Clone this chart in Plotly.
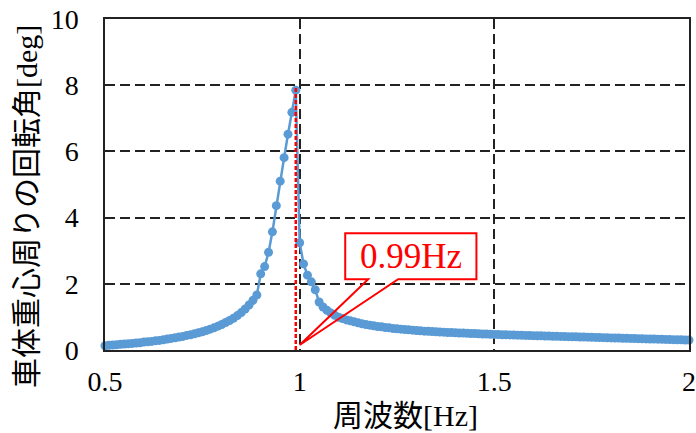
import plotly.graph_objects as go

# ---- data ----
freq_rise = [0.50, 0.51, 0.52, 0.53, 0.54, 0.55, 0.56, 0.57, 0.58, 0.59,
             0.60, 0.61, 0.62, 0.63, 0.64, 0.65, 0.66, 0.67, 0.68, 0.69,
             0.70, 0.71, 0.72, 0.73, 0.74, 0.75, 0.76, 0.77, 0.78, 0.79,
             0.80, 0.81, 0.82, 0.83, 0.84, 0.85, 0.86, 0.87, 0.88, 0.89,
             0.90, 0.91, 0.92, 0.93, 0.94, 0.95, 0.96, 0.97, 0.98, 0.99]
angle_rise = [0.13, 0.14, 0.15, 0.16, 0.17, 0.18, 0.19, 0.20, 0.21, 0.22,
              0.24, 0.25, 0.26, 0.28, 0.29, 0.31, 0.33, 0.35, 0.37, 0.39,
              0.41, 0.44, 0.46, 0.49, 0.52, 0.55, 0.59, 0.63, 0.67, 0.72,
              0.77, 0.83, 0.89, 0.96, 1.04, 1.13, 1.24, 1.36, 1.50, 1.66,
              2.30, 2.52, 2.95, 3.57, 4.36, 5.10, 5.81, 6.52, 7.18, 7.85]

freq_fall = [1.00, 1.01, 1.02, 1.03, 1.04, 1.05, 1.06, 1.07, 1.08, 1.09,
             1.10, 1.11, 1.12, 1.13, 1.14, 1.15, 1.16, 1.17, 1.18, 1.19,
             1.20, 1.21, 1.22, 1.23, 1.24, 1.25, 1.26, 1.27, 1.28, 1.29,
             1.30, 1.31, 1.32, 1.33, 1.34, 1.35, 1.36, 1.37, 1.38, 1.39,
             1.40, 1.41, 1.42, 1.43, 1.44, 1.45, 1.46, 1.47, 1.48, 1.49,
             1.50, 1.51, 1.52, 1.53, 1.54, 1.55, 1.56, 1.57, 1.58, 1.59,
             1.60, 1.61, 1.62, 1.63, 1.64, 1.65, 1.66, 1.67, 1.68, 1.69,
             1.70, 1.71, 1.72, 1.73, 1.74, 1.75, 1.76, 1.77, 1.78, 1.79,
             1.80, 1.81, 1.82, 1.83, 1.84, 1.85, 1.86, 1.87, 1.88, 1.89,
             1.90, 1.91, 1.92, 1.93, 1.94, 1.95, 1.96, 1.97, 1.98, 1.99,
             2.00]
angle_fall = [3.24, 2.60, 2.26, 2.06, 1.82, 1.45, 1.30, 1.20, 1.12, 1.05,
              0.99, 0.95, 0.91, 0.88, 0.85, 0.82, 0.79, 0.77, 0.75, 0.73,
              0.71, 0.70, 0.68, 0.67, 0.65, 0.64, 0.63, 0.62, 0.61, 0.60,
              0.59, 0.58, 0.57, 0.565, 0.56, 0.55, 0.545, 0.54, 0.53, 0.525,
              0.52, 0.515, 0.51, 0.505, 0.50, 0.495, 0.49, 0.485, 0.48, 0.475,
              0.47, 0.466, 0.462, 0.458, 0.455, 0.451, 0.448, 0.444, 0.441, 0.437,
              0.434, 0.430, 0.427, 0.423, 0.420, 0.417, 0.413, 0.410, 0.407, 0.403,
              0.400, 0.397, 0.393, 0.390, 0.387, 0.383, 0.380, 0.377, 0.373, 0.370,
              0.366, 0.363, 0.360, 0.356, 0.353, 0.350, 0.346, 0.343, 0.340, 0.336,
              0.333, 0.330, 0.327, 0.323, 0.320, 0.317, 0.313, 0.310, 0.307, 0.303,
              0.300]

freq = freq_rise + freq_fall
angle = angle_rise + angle_fall

peak_freq = 0.99
peak_angle = 7.85
peak_label = "0.99Hz"

x_tickvals = [0.5, 1.0, 1.5, 2.0]
x_ticktext = ["0.5", "1", "1.5", "2"]
y_tickvals = [0, 2, 4, 6, 8, 10]

x_title = "周波数[Hz]"
y_title = "車体重心周りの回転角[deg]"

FONT = "Liberation Serif, Noto Sans CJK JP, serif"
BLUE = "#5B9BD5"
RED = "#FF0000"

W, H = 696, 433
ML, MR, MT, MB = 105, 7, 19, 83

fig = go.Figure()
fig.add_trace(go.Scatter(
    x=freq, y=angle, mode="lines+markers",
    line=dict(color=BLUE, width=2.5),
    marker=dict(color=BLUE, size=9),
    showlegend=False, cliponaxis=False,
))

# red dashed marker line at the peak frequency
fig.add_shape(type="line", xref="x", yref="y",
              x0=peak_freq, x1=peak_freq, y0=0, y1=peak_angle + 0.1,
              line=dict(color=RED, width=2.5, dash="4px,2px"), layer="above")

# callout (box + wedge) pointing at the peak frequency on the axis
bx0, bx1, by0, by1 = 1.117, 1.454, 2.14, 3.53
wx0, wx1 = 1.176, 1.253
tipx, tipy = 1.0, 0.15
path = (f"M {wx0},{by0} L {bx0},{by0} L {bx0},{by1} L {bx1},{by1} "
        f"L {bx1},{by0} L {wx1},{by0} L {tipx},{tipy} Z")
fig.add_shape(type="path", xref="x", yref="y", path=path,
              line=dict(color=RED, width=2), fillcolor="rgba(0,0,0,0)", layer="above")
fig.add_annotation(x=(bx0 + bx1) / 2, y=(by0 + by1) / 2, xref="x", yref="y",
                   text=peak_label, showarrow=False,
                   font=dict(family=FONT, size=35, color=RED))

# axis titles (placed as in the reference)
pw, ph = W - ML - MR, H - MT - MB
fig.add_annotation(xref="paper", yref="paper",
                   x=(405 - ML) / pw, y=(H - MB - 415) / ph,
                   xanchor="center", yanchor="middle",
                   text=x_title, showarrow=False,
                   font=dict(family=FONT, size=30, color="black"))
fig.add_annotation(xref="paper", yref="paper",
                   x=(27 - ML) / pw, y=(H - MB - 207) / ph,
                   xanchor="center", yanchor="middle",
                   text=y_title, showarrow=False, textangle=-90,
                   font=dict(family=FONT, size=30, color="black"))

grid = dict(showgrid=True, gridcolor="#222222", gridwidth=1.5, griddash="10px,5px")

fig.update_xaxes(
    range=[0.5, 2.0], tickvals=x_tickvals, ticktext=x_ticktext,
    showline=True, linecolor="#222222", linewidth=1.5, mirror=True,
    ticks="inside", ticklen=6, tickcolor="rgba(0,0,0,0)",
    tickfont=dict(family=FONT, size=28, color="black"),
    ticklabelstandoff=6,
    zeroline=False, automargin=False, **grid,
)
fig.update_yaxes(
    range=[0, 10], tickvals=y_tickvals,
    showline=True, linecolor="#222222", linewidth=1.5, mirror=True,
    ticks="", tickfont=dict(family=FONT, size=28, color="black"),
    ticklabelstandoff=19,
    zeroline=False, automargin=False, **grid,
)

fig.update_layout(
    width=W, height=H,
    margin=dict(l=ML, r=MR, t=MT, b=MB),
    paper_bgcolor="white", plot_bgcolor="white",
    font=dict(family=FONT, color="black"),
)

fig.write_html("out.html", config={"displayModeBar": False},
               post_script="document.body.style.margin='0px';")
